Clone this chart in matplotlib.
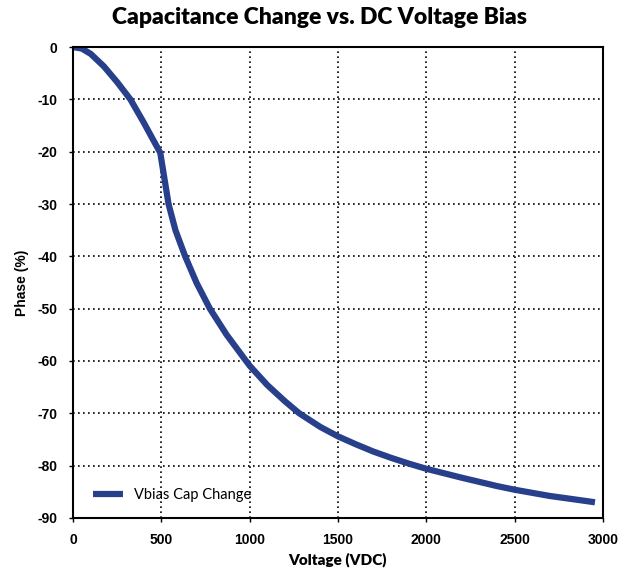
import matplotlib
matplotlib.use("Agg")
import matplotlib.pyplot as plt

plt.rcParams["axes.unicode_minus"] = False

voltage = [0, 50, 100, 175, 250, 325, 400, 450, 494, 541, 580, 635, 700,
           775, 870, 980, 1000, 1100, 1200, 1281, 1400, 1500, 1600, 1700, 1800, 1900, 2000,
           2200, 2400, 2500, 2700, 2850, 2955]
phase = [0, -0.3, -1.3, -3.7, -6.7, -10.0, -14.4, -17.5, -20.2, -30.0, -35.0, -40.0, -45.1,
         -50.0, -55.0, -60.0, -60.9, -64.6, -67.7, -70.0, -72.6,
         -74.4, -75.9, -77.3, -78.5, -79.6, -80.6, -82.3, -83.9, -84.6, -85.8, -86.5, -87.0]
xticks = [0, 500, 1000, 1500, 2000, 2500, 3000]
yticks = [0, -10, -20, -30, -40, -50, -60, -70, -80, -90]

fig = plt.figure(figsize=(6.38, 5.77), dpi=100)
ax = fig.add_axes([0.1144, 0.1023, 0.8306, 0.8162])

ax.plot(voltage, phase, color="#283F8C", linewidth=4.5, label="Vbias Cap Change",
        solid_capstyle="butt", solid_joinstyle="round")

ax.set_xlim(0, 3000)
ax.set_ylim(-90, 0)
ax.set_xticks(xticks)
ax.set_yticks(yticks)
ax.grid(True, color="black", linestyle=(0, (1, 2)), linewidth=1.2)
for s in ax.spines.values():
    s.set_linestyle((0, (1, 1)))
    s.set_linewidth(1.5)
ax.tick_params(length=3, width=1, direction="out", pad=8)
for lab in ax.get_xticklabels() + ax.get_yticklabels():
    lab.set_fontfamily("Liberation Sans")
    lab.set_fontweight("bold")
    lab.set_fontsize(10)

fig.text(0.5, 1 - 18 / 577, "Capacitance Change vs. DC Voltage Bias", fontfamily="Lato",
         fontweight="heavy", fontsize=16.5, ha="center", va="center")
ax.set_xlabel("Voltage (VDC)", fontfamily="Lato", fontweight="heavy", fontsize=11, labelpad=4)
ax.set_ylabel("Phase (%)", fontfamily="Liberation Sans", fontweight="bold", fontsize=10, labelpad=6)

leg = ax.legend(loc="lower left", frameon=False, prop={"family": "Lato", "size": 10.5},
                handlelength=2.0, borderaxespad=1.0, bbox_to_anchor=(0.0, -0.01))

fig.savefig("out.png", dpi=100)
